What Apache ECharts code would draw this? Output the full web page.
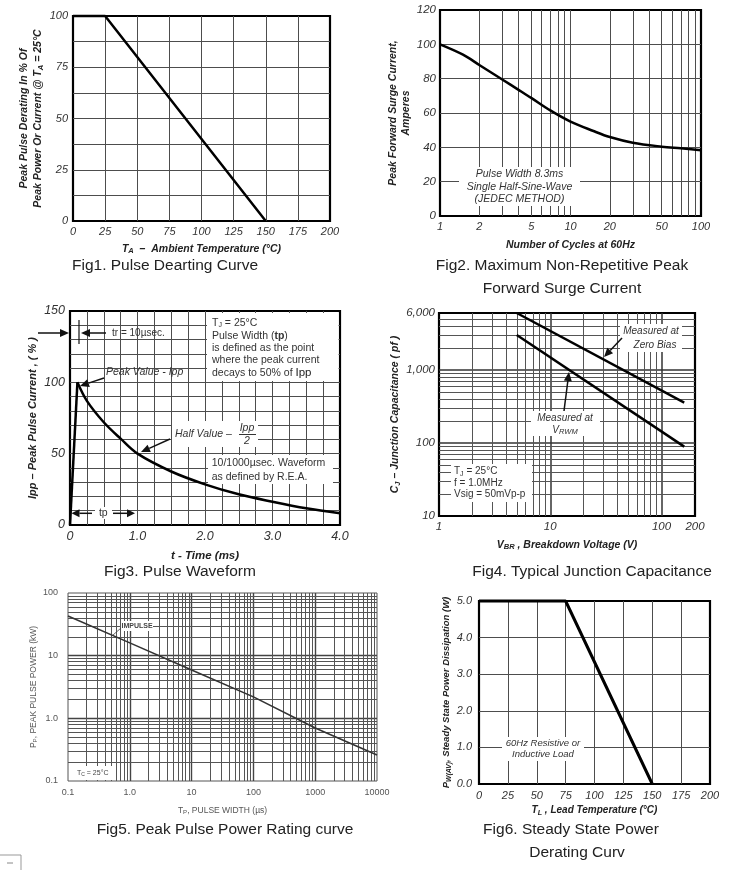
<!DOCTYPE html>
<html><head><meta charset="utf-8">
<script src="https://cdn.jsdelivr.net/npm/echarts@6/dist/echarts.min.js"></script>
<style>html,body{margin:0;padding:0;background:#fff}#c{width:754px;height:870px}</style>
</head><body><div id="c"></div>
<script>
// ---------- data ----------
// Fig1 Pulse derating
const fig1Temp = [0, 25, 150];
const fig1Derating = [100, 100, 0];
// Fig2 Surge current vs cycles
const fig2Cycles = [1, 1.5, 2, 3, 4, 5, 7, 10, 15, 20, 30, 50, 70, 100];
const fig2Current = [100, 94, 88, 79.5, 73.5, 68.8, 61.5, 55, 49.5, 46, 42.7, 40.4, 39.4, 38.3];
const fig2ExtraXLabels = [2, 5, 20, 50];
const fig2MinorX = [2, 3, 4, 5, 6, 7, 8, 9, 20, 30, 40, 50, 60, 70, 80, 90];
// Fig3 Pulse waveform
const fig3Time = [0, 0.11, 0.25, 0.5, 0.75, 1.0, 1.5, 2.0, 2.5, 3.0, 3.5, 4.0];
const fig3Current = [0, 100, 87, 72, 60.5, 50, 37.5, 28.5, 21.5, 16.3, 11.7, 8.2];
// Fig4 Junction capacitance
const fig4Voltage = [5, 160];
const fig4ZeroBias = [6000, 356];
const fig4Vrwm = [3000, 89];
const fig4MinorX = [2, 3, 4, 5, 6, 7, 8, 9, 20, 30, 40, 50, 60, 70, 80, 90];
const fig4MinorY = [20, 30, 40, 50, 60, 70, 80, 90, 200, 300, 400, 500, 600, 700, 800, 900, 2000, 3000, 4000, 5000];
// Fig5 Peak pulse power
const fig5Width = [0.1, 1, 10, 100, 1000, 10000];
const fig5Power = [43, 16, 5.9, 2.2, 0.70, 0.26];
const fig5MinorX = [0.2, 0.3, 0.4, 0.5, 0.6, 0.7, 0.8, 0.9, 2, 3, 4, 5, 6, 7, 8, 9, 20, 30, 40, 50, 60, 70, 80, 90,
  200, 300, 400, 500, 600, 700, 800, 900, 2000, 3000, 4000, 5000, 6000, 7000, 8000, 9000];
const fig5MinorY = [0.2, 0.3, 0.4, 0.5, 0.6, 0.7, 0.8, 0.9, 2, 3, 4, 5, 6, 7, 8, 9, 20, 30, 40, 50, 60, 70, 80, 90];
// Fig6 Steady state power derating
const fig6Temp = [0, 75, 150];
const fig6Power = [5, 5, 0];

// ---------- helpers ----------
const F = 'Liberation Sans, Arial, sans-serif';
const GRID_C = '#4d4d4d';
const zip = (a, b) => a.map((v, i) => [v, b[i]]);

function tickLab(size, margin, extra) {
  return Object.assign({fontFamily: F, fontStyle: 'italic', fontSize: size, color: '#333', margin: margin,
    showMinLabel: true, showMaxLabel: true}, extra || {});
}
function nameCfg(text, size, gap, isY, opt) {
  opt = opt || {};
  const weight = opt.weight || 'bold', style = opt.style || 'italic', color = opt.color || '#222';
  return {
    name: text, nameLocation: 'middle', nameGap: gap, nameRotate: isY ? 90 : 0,
    nameTextStyle: {fontFamily: F, fontSize: size, fontStyle: style, fontWeight: weight, color: color,
      lineHeight: opt.lh || size * 1.3,
      rich: {s: {fontFamily: F, fontSize: size * 0.72, fontStyle: style, fontWeight: weight, color: color,
        padding: [size * 0.45, 0, 0, 0]}}}
  };
}
function split(color, width) {
  return {show: true, showMinLine: false, showMaxLine: false, lineStyle: {color: color || GRID_C, width: width || 1}};
}
const noLine = {axisLine: {show: false}, axisTick: {show: false}};
function curve(w, c) {
  return {symbol: 'none', showSymbol: false, silent: true, clip: false, z: 5,
    lineStyle: {color: c || '#000', width: w}, emphasis: {disabled: true}};
}
function gridLines(xi, xs, ys, color, width) {
  return {type: 'line', xAxisIndex: xi, yAxisIndex: xi, data: [], silent: true, z: 1,
    markLine: {silent: true, z: 1, animation: false, symbol: ['none', 'none'], label: {show: false},
      emphasis: {disabled: true},
      lineStyle: {color: color, width: width, type: 'solid'},
      data: xs.map(v => ({xAxis: v})).concat(ys.map(v => ({yAxis: v})))}};
}
const logFmt = v => {
  if (v < 0.5) return '0.1';
  if (Math.abs(v - 1) < 1e-9) return '1.0';
  return String(Math.round(v));
};

const chart = echarts.init(document.getElementById('c'));

const option = {
  animation: false,
  backgroundColor: '#fff',
  grid: [
    {left: 73, top: 16, width: 257, height: 205},
    {left: 440, top: 10, width: 261, height: 206},
    {left: 70, top: 311, width: 270, height: 214},
    {left: 439, top: 313, width: 256, height: 203},
    {left: 68, top: 593, width: 309, height: 188},
    {left: 479, top: 601, width: 231, height: 183}
  ].map((g, i) => Object.assign(g, {show: true, backgroundColor: 'transparent',
      borderColor: i === 4 ? '#555' : '#000', borderWidth: i === 4 ? 1 : 2.2})),
  xAxis: [
    Object.assign({gridIndex: 0, type: 'value', min: 0, max: 200, interval: 25, splitLine: split(),
      axisLabel: tickLab(11, 5)}, noLine,
      nameCfg('T{s|A}  –  Ambient Temperature (°C)', 10.5, 21, false)),
    Object.assign({gridIndex: 1, type: 'log', logBase: 10, min: 1, max: 100, splitLine: split(),
      axisLabel: tickLab(11, 5, {formatter: v => String(Math.round(v))})}, noLine,
      nameCfg('Number of Cycles at 60Hz', 10.5, 22, false)),
    Object.assign({gridIndex: 2, type: 'value', min: 0, max: 4, interval: 1, splitLine: split(),
      minorTick: {show: false, splitNumber: 4}, minorSplitLine: {show: true, lineStyle: {color: GRID_C, width: 1}},
      axisLabel: tickLab(12.5, 5, {formatter: v => v === 0 ? '0' : v.toFixed(1)})}, noLine,
      nameCfg('t - Time (ms)', 11.5, 23, false)),
    Object.assign({gridIndex: 3, type: 'log', logBase: 10, min: 1, max: 200, splitLine: split('#333', 1.5),
      axisLabel: tickLab(11.5, 5, {formatter: v => String(Math.round(v))})}, noLine,
      nameCfg('V{s|BR} , Breakdown Voltage (V)', 10.5, 22, false)),
    Object.assign({gridIndex: 4, type: 'log', logBase: 10, min: 0.1, max: 10000, splitLine: split('#444', 1.4),
      axisLabel: tickLab(9, 7, {fontStyle: 'normal', color: '#555', formatter: logFmt})}, noLine,
      nameCfg('T{s|P}, PULSE WIDTH (µs)', 8.5, 24, false, {weight: 'normal', style: 'normal', color: '#555'})),
    Object.assign({gridIndex: 5, type: 'value', min: 0, max: 200, interval: 25, splitLine: split(),
      axisLabel: tickLab(11, 6)}, noLine,
      nameCfg('T{s|L} , Lead Temperature (°C)', 10, 20, false))
  ],
  yAxis: [
    Object.assign({gridIndex: 0, type: 'value', min: 0, max: 100, interval: 25, splitLine: split(),
      minorTick: {show: false, splitNumber: 2}, minorSplitLine: {show: true, lineStyle: {color: GRID_C, width: 1}},
      axisLabel: tickLab(11, 5)}, noLine,
      nameCfg('Peak Pulse Derating In % Of\nPeak Power Or Current @ T{s|A} = 25°C', 10.5, 19, true, {lh: 14.5})),
    Object.assign({gridIndex: 1, type: 'value', min: 0, max: 120, interval: 20, splitLine: split(),
      axisLabel: tickLab(11.5, 4)}, noLine,
      nameCfg('Peak Forward Surge Current,\nAmperes', 10.5, 16, true, {lh: 13.5})),
    Object.assign({gridIndex: 2, type: 'value', min: 0, max: 150, interval: 50, splitLine: split(),
      minorTick: {show: false, splitNumber: 5}, minorSplitLine: {show: true, lineStyle: {color: GRID_C, width: 1}},
      axisLabel: tickLab(12.5, 5)}, noLine,
      nameCfg('Ipp – Peak Pulse Current , ( % )', 11, 30, true)),
    Object.assign({gridIndex: 3, type: 'log', logBase: 10, min: 10, max: 6000, splitLine: split('#333', 1.5),
      axisLabel: tickLab(11.5, 4, {formatter: v => Math.round(v).toLocaleString('en-US')})}, noLine,
      nameCfg('C{s|J} – Junction Capacitance ( pf )', 10.5, 24, true)),
    Object.assign({gridIndex: 4, type: 'log', logBase: 10, min: 0.1, max: 100, splitLine: split('#444', 1.4),
      axisLabel: tickLab(9, 10, {fontStyle: 'normal', color: '#555', formatter: logFmt})}, noLine,
      nameCfg('P{s|P}, PEAK PULSE POWER (kW)', 8.5, 29, true, {weight: 'normal', style: 'normal', color: '#555'})),
    Object.assign({gridIndex: 5, type: 'value', min: 0, max: 5, interval: 1, splitLine: split(),
      axisLabel: tickLab(11, 7, {formatter: v => v.toFixed(1)})}, noLine,
      nameCfg('P{s|W(AV)}, Steady State Power Dissipation (W)', 9.5, 22, true))
  ],
  series: [
    Object.assign({type: 'line', xAxisIndex: 0, yAxisIndex: 0, data: zip(fig1Temp, fig1Derating)}, curve(2.5)),
    gridLines(1, fig2MinorX, [], GRID_C, 1),
    Object.assign({type: 'line', xAxisIndex: 1, yAxisIndex: 1, data: zip(fig2Cycles, fig2Current),
      smooth: 0.35}, curve(2.5)),
    Object.assign({type: 'line', xAxisIndex: 2, yAxisIndex: 2,
      data: zip(fig3Time.slice(0, 2), fig3Current.slice(0, 2))}, curve(2.5)),
    Object.assign({type: 'line', xAxisIndex: 2, yAxisIndex: 2,
      data: zip(fig3Time.slice(1), fig3Current.slice(1)), smooth: 0.35}, curve(2.5)),
    gridLines(3, fig4MinorX, fig4MinorY, '#555', 1),
    Object.assign({type: 'line', xAxisIndex: 3, yAxisIndex: 3, data: zip(fig4Voltage, fig4ZeroBias)}, curve(2.5)),
    Object.assign({type: 'line', xAxisIndex: 3, yAxisIndex: 3, data: zip(fig4Voltage, fig4Vrwm)}, curve(2.5)),
    gridLines(4, fig5MinorX, fig5MinorY, '#555', 1),
    Object.assign({type: 'line', xAxisIndex: 4, yAxisIndex: 4, data: zip(fig5Width, fig5Power)}, curve(1.6, '#333')),
    Object.assign({type: 'line', xAxisIndex: 5, yAxisIndex: 5, data: zip(fig6Temp, fig6Power)}, curve(3))
  ]
};
chart.setOption(option);

// ---------- annotations ----------
const G = [];
function txt(x, y, text, o) {
  const st = Object.assign({text: text, fill: '#333', fontFamily: F, fontSize: 10.5, align: 'left', verticalAlign: 'middle'}, o || {});
  G.push({type: 'text', x: x, y: y, z: 100, silent: true, style: st});
}
function wbox(x1, y1, x2, y2) {
  G.push({type: 'rect', z: 90, silent: true, shape: {x: x1, y: y1, width: x2 - x1, height: y2 - y1}, style: {fill: '#fff'}});
}
function seg(x1, y1, x2, y2, w, c) {
  G.push({type: 'line', z: 100, silent: true, shape: {x1: x1, y1: y1, x2: x2, y2: y2}, style: {stroke: c || '#222', lineWidth: w || 1.2}});
}
function arrow(x1, y1, x2, y2, hl, hw, w) {
  const dx = x2 - x1, dy = y2 - y1, L = Math.hypot(dx, dy), ux = dx / L, uy = dy / L;
  const bx = x2 - ux * hl, by = y2 - uy * hl, px = -uy, py = ux;
  seg(x1, y1, bx, by, w || 1.5, '#111');
  G.push({type: 'polygon', z: 100, silent: true,
    shape: {points: [[x2, y2], [bx + px * hw, by + py * hw], [bx - px * hw, by - py * hw]]}, style: {fill: '#111'}});
}
const subRich = (size, extra) => ({s: Object.assign({fontFamily: F, fontSize: size, fill: '#333', padding: [size * 0.55, 0, 0, 0]}, extra || {})});
const IT = {fontStyle: 'italic'};

// Fig2 text + extra log tick labels
wbox(459, 167, 580, 206);
txt(519.5, 174, 'Pulse Width 8.3ms', {align: 'center', fontStyle: 'italic'});
txt(519.5, 186.7, 'Single Half-Sine-Wave', {align: 'center', fontStyle: 'italic'});
txt(519.5, 199, '(JEDEC METHOD)', {align: 'center', fontStyle: 'italic'});
fig2ExtraXLabels.forEach(v => {
  const p = chart.convertToPixel({gridIndex: 1}, [v, 0]);
  txt(p[0], p[1] + 5, String(v), {align: 'center', verticalAlign: 'top', fontStyle: 'italic', fontSize: 11});
});

// Fig3
arrow(38, 333, 69, 333, 9, 4, 1.5);
seg(79, 320, 79, 344, 1.2, '#111');
arrow(106, 333, 81, 333, 9, 4, 1.5);
txt(112, 333, 'tr = 10µsec.', {fontSize: 10});
txt(106, 372.5, 'Peak Value - Ipp', IT);
arrow(104, 378, 80, 386, 9, 4, 1.5);
wbox(207, 313, 338.5, 381);
txt(212, 323, 'T{s|J} = 25°C', {rich: subRich(7)});
txt(212, 335.7, 'Pulse Width ({b|tp})', {rich: {b: {fontFamily: F, fontSize: 10.5, fontWeight: 'bold', fill: '#333'}}});
txt(212, 348, 'is defined as the point');
txt(212, 360.3, 'where the peak current');
txt(212, 372.7, 'decays to 50% of {b|Ipp}', {rich: {b: {fontFamily: F, fontSize: 11.5, fill: '#222'}}});
wbox(172, 421, 258, 447);
txt(175, 434, 'Half Value –', IT);
txt(247, 428, 'Ipp', {align: 'center', fontStyle: 'italic'});
seg(239, 434.5, 256, 434.5, 1, '#333');
txt(247, 441.5, '2', {align: 'center', fontStyle: 'italic'});
arrow(170, 439, 141, 452, 9, 4, 1.5);
wbox(208, 455, 333, 484);
txt(211.7, 462.7, '10/1000µsec. Waveform');
txt(211.7, 476.7, 'as defined by R.E.A.');
arrow(92, 513.3, 71.5, 513.3, 8, 4, 1.5);
wbox(95, 507, 112, 519);
txt(103.3, 513.3, 'tp', {align: 'center'});
arrow(113, 513.3, 135, 513.3, 8, 4, 1.5);

// Fig4
wbox(620, 324, 682, 352);
txt(651, 331.7, 'Measured at', {align: 'center', fontStyle: 'italic', fontSize: 10});
txt(655, 345.7, 'Zero Bias', {align: 'center', fontStyle: 'italic', fontSize: 10});
arrow(622, 338, 604, 357, 9, 4, 1.5);
wbox(531, 411, 600, 436);
txt(565, 418.3, 'Measured at', {align: 'center', fontStyle: 'italic', fontSize: 10});
txt(565, 430, 'V{s|RWM}', {align: 'center', fontStyle: 'italic', fontSize: 10, rich: subRich(7.5, {fontStyle: 'italic'})});
arrow(564, 411, 569, 372, 9, 4, 1.5);
wbox(451, 464, 532, 502);
txt(454, 471.7, 'T{s|J} = 25°C', {fontSize: 10, rich: subRich(7)});
txt(454, 483.3, 'f = 1.0MHz', {fontSize: 10});
txt(454, 494.3, 'Vsig = 50mVp-p', {fontSize: 10});

// Fig5
wbox(121, 621, 153, 631);
txt(137, 626, 'IMPULSE', {align: 'center', fontSize: 7, fontWeight: 'bold', fill: '#444'});
seg(121, 628, 113, 635, 0.8, '#444');
wbox(69, 766, 114, 780);
txt(77, 773, 'T{s|C} = 25°C', {fontSize: 7, fill: '#444', rich: subRich(5, {fill: '#444'})});

// Fig6
wbox(502, 737, 584, 761);
txt(543, 743.3, '60Hz Resistive or', {align: 'center', fontStyle: 'italic', fontSize: 9.5});
txt(543, 754, 'Inductive Load', {align: 'center', fontStyle: 'italic', fontSize: 9.5});

// captions
const CAP = {fontSize: 15.5, fill: '#222'};
txt(72, 266, 'Fig1. Pulse Dearting Curve', CAP);
txt(562, 265.7, 'Fig2. Maximum Non-Repetitive Peak', Object.assign({align: 'center'}, CAP));
txt(562, 288.5, 'Forward Surge Current', Object.assign({align: 'center'}, CAP));
txt(180, 571.7, 'Fig3. Pulse Waveform', Object.assign({align: 'center'}, CAP));
txt(592, 571.7, 'Fig4. Typical Junction Capacitance', Object.assign({align: 'center'}, CAP));
txt(225, 830, 'Fig5. Peak Pulse Power Rating curve', Object.assign({align: 'center'}, CAP));
txt(571, 829.5, 'Fig6. Steady State Power', Object.assign({align: 'center'}, CAP));
txt(577, 853, 'Derating Curv', Object.assign({align: 'center'}, CAP));

// small page artefact at bottom-left
seg(0, 855, 21, 855, 1, '#999');
seg(21, 855, 21, 870, 1, '#999');
seg(7, 863, 13, 863, 1, '#888');

chart.setOption({graphic: {elements: G}});
</script>
</body></html>
